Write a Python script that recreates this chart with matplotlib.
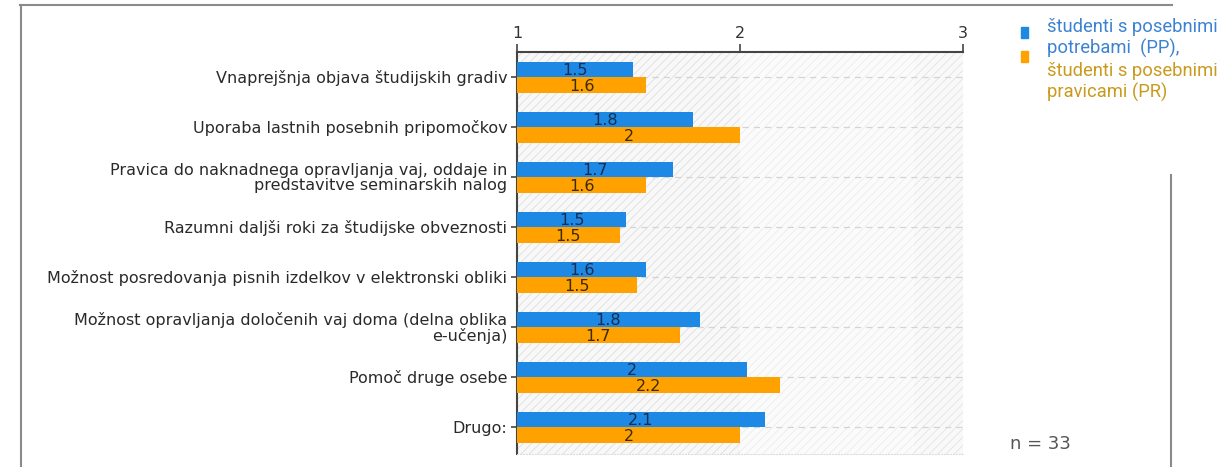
import matplotlib
matplotlib.use("Agg")
import matplotlib.pyplot as plt
from matplotlib.lines import Line2D
import numpy as np

categories = [
    "Vnaprejšnja objava študijskih gradiv",
    "Uporaba lastnih posebnih pripomočkov",
    "Pravica do naknadnega opravljanja vaj, oddaje in\npredstavitve seminarskih nalog",
    "Razumni daljši roki za študijske obveznosti",
    "Možnost posredovanja pisnih izdelkov v elektronski obliki",
    "Možnost opravljanja določenih vaj doma (delna oblika\ne-učenja)",
    "Pomoč druge osebe",
    "Drugo:",
]
pp_values = [1.52, 1.79, 1.70, 1.49, 1.58, 1.82, 2.03, 2.11]
pr_values = [1.58, 2.00, 1.58, 1.46, 1.54, 1.73, 2.18, 2.00]
x_ticks = [1, 2, 3]
legend_labels = ["študenti s posebnimi\npotrebami  (PP),", "študenti s posebnimi\npravicami (PR)"]
n_text = "n = 33"

BLUE = "#1e88e5"
ORANGE = "#ffa200"
FS = 11.5

plt.rcParams["hatch.linewidth"] = 0.6
fig = plt.figure(figsize=(12.24, 4.67), dpi=100)
ax = fig.add_axes([517/1224, 1-454/467, (963-517)/1224, (454-52)/467])

y = np.arange(len(categories))
h = 0.31
base = 1.0
ax.set_xlim(1, 3)
ax.set_ylim(len(categories) - 0.46, -0.5)

# background hatched bands
ax.axvspan(1, 2, facecolor="#f8f8f8", edgecolor="#dedede", hatch="////", lw=0, zorder=0)
ax.axvspan(2, 2.78, facecolor="#fbfbfb", edgecolor="#ececec", hatch="////", lw=0, zorder=0)
ax.axvspan(2.78, 3, facecolor="#f9f9f9", edgecolor="#e3e3e3", hatch="////", lw=0, zorder=0)
for yy in y:
    ax.axhline(yy, color="#d4d4d4", lw=0.9, ls=(0, (5, 4)), zorder=1)
ax.axvline(3, color="#c8c8c8", lw=0.8, ls=":", zorder=1)

pp = [v - base for v in pp_values]
pr = [v - base for v in pr_values]
ax.barh(y - h/2, pp, height=h, left=base, color=BLUE, zorder=3)
ax.barh(y + h/2, pr, height=h, left=base, color=ORANGE, zorder=3)

def fmt(v):
    s = f"{v:.1f}"
    return s[:-2] if s.endswith(".0") else s

for i in range(len(categories)):
    ax.text((base + pp_values[i]) / 2, y[i] - h/2 + 0.02, fmt(pp_values[i]), ha="center", va="center",
            fontsize=FS, color="#1b2c4c", zorder=4)
    ax.text((base + pr_values[i]) / 2, y[i] + h/2 + 0.03, fmt(pr_values[i]), ha="center", va="center",
            fontsize=FS, color="#3b2a05", zorder=4)

ax.set_yticks(y)
ax.set_yticklabels(categories, fontsize=FS, color="#2a2a2a", linespacing=0.95)
ax.tick_params(axis="y", length=4, width=1.2, color="#444444", pad=3)
ax.xaxis.tick_top()
ax.set_xticks(x_ticks)
ax.set_xticklabels([str(t) for t in x_ticks], fontsize=FS, color="#333333")
ax.tick_params(axis="x", length=6, width=1.2, color="#444444", pad=2)

ax.spines["top"].set_color("#444444")
ax.spines["top"].set_linewidth(1.5)
ax.spines["left"].set_color("#444444")
ax.spines["left"].set_linewidth(1.5)
ax.spines["right"].set_visible(False)
ax.spines["bottom"].set_color("#dddddd")
ax.spines["bottom"].set_linestyle(":")
ax.spines["bottom"].set_linewidth(0.8)

# frame lines
fig.add_artist(Line2D([20/1224, 1172/1224], [1-5/467, 1-5/467], color="#8a8a8a", lw=1.5))
fig.add_artist(Line2D([21/1224, 21/1224], [0, 1-5/467], color="#8a8a8a", lw=1.5))
fig.add_artist(Line2D([1171/1224, 1171/1224], [0, 1-175/467], color="#8a8a8a", lw=1.5))

# legend
fig.patches.append(plt.Rectangle((1021/1224, 1-38/467), 7/1224, 11/467, color=BLUE, transform=fig.transFigure))
fig.patches.append(plt.Rectangle((1021/1224, 1-62/467), 7/1224, 11/467, color=ORANGE, transform=fig.transFigure))
fig.text(1047/1224, 1-18/467, legend_labels[0], fontsize=13.2, family="Roboto", color="#3c82d2",
         va="top", ha="left", linespacing=1.22)
fig.text(1047/1224, 1-62/467, legend_labels[1], fontsize=13.2, family="Roboto", color="#c99a1c",
         va="top", ha="left", linespacing=1.22)

fig.text(1010/1224, 1-444/467, n_text, fontsize=13, family="DejaVu Sans", color="#555555", va="center", ha="left")

fig.savefig("out.png", dpi=100)
